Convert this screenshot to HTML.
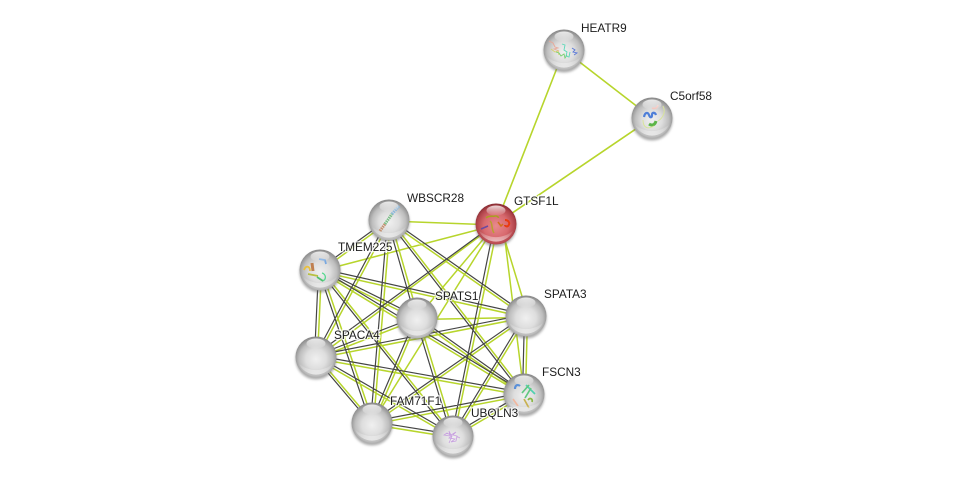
<!DOCTYPE html>
<html><head><meta charset="utf-8"><style>
html,body{margin:0;padding:0;background:#fff}
svg{display:block}
text{font-family:"Liberation Sans",sans-serif;font-size:11.8px;fill:#1c1c1c;paint-order:stroke;stroke:rgba(255,255,255,.8);stroke-width:2.5px}
</style></head><body>
<svg width="975" height="480" viewBox="0 0 975 480" xmlns="http://www.w3.org/2000/svg">
<defs>
<radialGradient id="b" cx="50%" cy="55%" r="55%"><stop offset="0" stop-color="#f0f0f0"/><stop offset=".45" stop-color="#dedede"/><stop offset=".75" stop-color="#bdbdbd"/><stop offset=".93" stop-color="#959595"/><stop offset="1" stop-color="#858585"/></radialGradient>
<radialGradient id="r" cx="50%" cy="55%" r="55%"><stop offset="0" stop-color="#e88a8e"/><stop offset=".55" stop-color="#d8696e"/><stop offset=".85" stop-color="#b0444a"/><stop offset="1" stop-color="#842a30"/></radialGradient>
<linearGradient id="h" x1="0" y1="0" x2="0" y2="1"><stop offset="0" stop-color="#fff" stop-opacity=".8"/><stop offset="1" stop-color="#fff" stop-opacity=".05"/></linearGradient>
<linearGradient id="l" x1="0" y1="0" x2="0" y2="1"><stop offset="0" stop-color="#fff" stop-opacity="0"/><stop offset="1" stop-color="#fff" stop-opacity=".6"/></linearGradient>
<filter id="s" x="-30%" y="-30%" width="160%" height="160%"><feGaussianBlur stdDeviation="1.200"/></filter>
<g id="shine"><ellipse cx="0" cy="-13.500" rx="9.500" ry="5" fill="url(#h)"/><path d="M-17.500 6A19 19 0 0 0 17.500 6A25 25 0 0 1-17.500 6Z" fill="url(#l)"/></g>
<g id="sh"><circle cx="0" cy="2" r="20.500" fill="#666" opacity=".55" filter="url(#s)"/></g>
</defs>

<g fill="none" stroke-linecap="round">
<path stroke="#b7d52c" stroke-width="1.600" d="M564 50L496 224M564 50L652 118M652 118L496 224"/>
<path stroke="#b7d52c" stroke-width="1.500" d="M389 221L496 225M320 271L496 225M417 318L496 224M496 224L316 358.500M498 224L454 436M496 224L372 423M500 224L528 316M503 224L524 394
M389 221.500L320 271.500M320 271.500L417 319.500M320 271.500L526 317.500M417 319.500L526 317.500M316 358.500L417 319.500M316 358.500L526 317.500M316 358.500L524 395.500M316 358.500L453 437.500M372 424.500L524 395.500M372 424.500L453 437.500M526 317.500L372 424.500M417 319.500L524 395.500M389 221.500L526 317.500M320 271.500L524 395.500M524 395.500L453 437.500
M390.500 220L418.500 318M390.500 220L317.500 357M390.500 220L373.500 423M390.500 220L525.500 394M321.500 270L317.500 357M321.500 270L373.500 423M321.500 270L454.500 436M418.500 318L373.500 423M418.500 318L454.500 436M527.500 316L525.500 394M527.500 316L454.500 436M317.500 357L373.500 423"/>
<path stroke="#454545" stroke-width="1.200" d="M494.500 224L314.500 355.500M494.500 224L451.500 436
M389 218.500L320 268.500M320 268.500L417 316.500M320 268.500L526 314.500M316 355.500L417 316.500M316 355.500L526 314.500M316 355.500L524 392.500M316 355.500L453 434.500M372 421.500L524 392.500M372 421.500L453 434.500M526 314.500L372 421.500M417 316.500L524 392.500M389 218.500L526 314.500M320 268.500L524 392.500M524 392.500L453 434.500
M387.500 220L415.500 318M387.500 220L314.500 357M387.500 220L370.500 423M387.500 220L522.500 394M318.500 270L314.500 357M318.500 270L370.500 423M318.500 270L451.500 436M415.500 318L370.500 423M415.500 318L451.500 436M524.500 316L522.500 394M524.500 316L451.500 436M314.500 357L370.500 423"/>
</g>

<g><use href="#sh" x="564" y="50"/><circle cx="564" cy="50" r="20.500" fill="url(#b)"/>
<g fill="none" stroke-width=".9"><path d="M549 41l4 2 2 4 3 1-4 1 5 2" stroke="#e8a898"/><path d="M551 49l4 3 3-1 1 4" stroke="#d6d070"/><path d="M556 52l3 1 2 3 3-2 1 4 2-3" stroke="#78d070"/><path d="M562 44l3 1-1 5 3 2-1 4 3 1 1-5" stroke="#5cd8b8"/><path d="M572 48l3 2-2 2 4 1-3 2" stroke="#5a78d8"/></g><use href="#shine" x="564" y="50"/></g>
<g><use href="#sh" x="652" y="118"/><circle cx="652" cy="118" r="20.500" fill="url(#b)"/>
<g fill="none"><path d="M644 117c1-5 4-5 5-2s3 3 3 0 3-3 4 0" stroke="#4f7fd8" stroke-width="2.200"/><path d="M649 124c3 2 6 1 7-3" stroke="#5cb548" stroke-width="3"/><path d="M658 105c-1 3-3 4-6 3" stroke="#f0c0b8" stroke-width="1.800"/><path d="M643 120c0 9 6 9 11 6M663 106c3 6 0 12-5 15" stroke="#d8e49a" stroke-width="1"/></g><use href="#shine" x="652" y="118"/></g>
<g><use href="#sh" x="496" y="224"/><circle cx="496" cy="224" r="20.500" fill="url(#r)"/>
<g fill="none" stroke-width="1.500"><path d="M486 218c3-3 6-1 9-2s2 2 4 1" stroke="#a8a020"/><path d="M490 221c3 2 1 8 4 12" stroke="#b8a030"/><path d="M505 220c3 0 6 3 3 6c-1 1-3 0-3-1" stroke="#e83a10" stroke-width="2"/><path d="M481 229l7-3" stroke="#6a4aa0"/><path d="M498 222l3 4 2-2" stroke="#d0701a"/></g><use href="#shine" x="496" y="224"/></g>
<g><use href="#sh" x="389" y="220"/><circle cx="389" cy="220" r="20.500" fill="url(#b)"/>
<g fill="none" stroke-width="3" stroke-dasharray="1.500 .8"><path d="M380 231L385 224" stroke="#c49070"/><path d="M385 224L392 214" stroke="#7cbf88"/><path d="M392 214L399 206" stroke="#8cb8dc"/></g><use href="#shine" x="389" y="220"/></g>
<g><use href="#sh" x="320" y="270"/><circle cx="320" cy="270" r="20.500" fill="url(#b)"/>
<g fill="none" stroke-width="1.800"><path d="M304 270c2-5 6-4 6 1" stroke="#e8c040"/><path d="M312 263l1 8" stroke="#c08050" stroke-width="3"/><path d="M319 259l6 1 1 4" stroke="#78a8e0"/><path d="M308 274l10 2" stroke="#b8c040"/><path d="M322 273c4 1 5 7 0 8" stroke="#58d890" stroke-width="1.300"/><path d="M317 277l6 4" stroke="#50c070"/></g><use href="#shine" x="320" y="270"/></g>
<g><use href="#sh" x="417" y="318"/><circle cx="417" cy="318" r="20.500" fill="url(#b)"/><use href="#shine" x="417" y="318"/></g>
<g><use href="#sh" x="526" y="316"/><circle cx="526" cy="316" r="20.500" fill="url(#b)"/><use href="#shine" x="526" y="316"/></g>
<g><use href="#sh" x="316" y="357"/><circle cx="316" cy="357" r="20.500" fill="url(#b)"/><use href="#shine" x="316" y="357"/></g>
<g><use href="#sh" x="524" y="394"/><circle cx="524" cy="394" r="20.500" fill="url(#b)"/>
<g fill="none" stroke-width="1.700"><path d="M515 389c0-4 3-5 5-3" stroke="#5a90d8" stroke-width="2.200"/><path d="M526 385l9 9" stroke="#50d0b0"/><path d="M522 393l7-8M525 398l6-10" stroke="#60c880"/><path d="M524 399l5 9" stroke="#c8b050"/><path d="M513 399l5 7" stroke="#f0b8a0"/><path d="M528 400c2-3 5-1 4 2" stroke="#88b840"/></g><use href="#shine" x="524" y="394"/></g>
<g><use href="#sh" x="372" y="423"/><circle cx="372" cy="423" r="20.500" fill="url(#b)"/><use href="#shine" x="372" y="423"/></g>
<g><use href="#sh" x="453" y="436"/><circle cx="453" cy="436" r="20.500" fill="url(#b)"/>
<path d="M447 433l5 3-3 2 6 1-4 3 5-1 1-5-4-1 3-3-5 3-2-4 1 5-6-1zM452 436l-3 7M456 436l4 2" fill="none" stroke="#c8a0e0" stroke-width=".8"/><use href="#shine" x="453" y="436"/></g>

<text x="581" y="32">HEATR9</text>
<text x="670" y="100">C5orf58</text>
<text x="514" y="205">GTSF1L</text>
<text x="407" y="202">WBSCR28</text>
<text x="338" y="251">TMEM225</text>
<text x="435" y="300">SPATS1</text>
<text x="544" y="298">SPATA3</text>
<text x="334" y="339">SPACA4</text>
<text x="542" y="376">FSCN3</text>
<text x="390" y="405">FAM71F1</text>
<text x="471" y="417">UBQLN3</text>
</svg>
</body></html>
